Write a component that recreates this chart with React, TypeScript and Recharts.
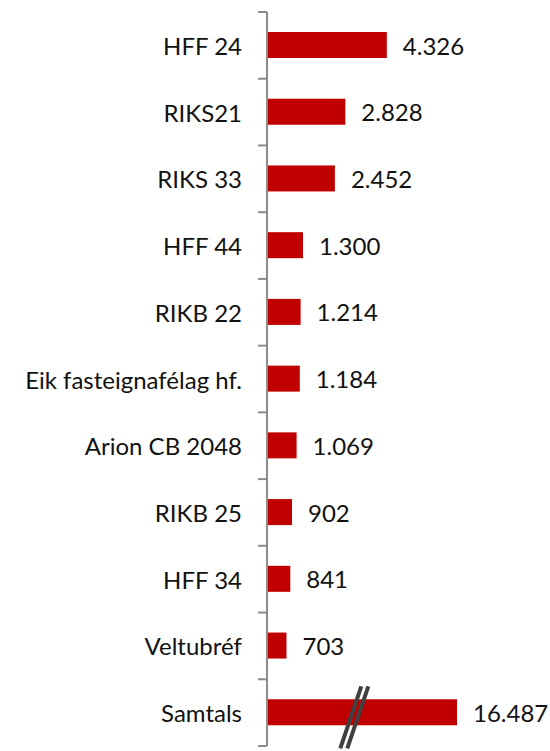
import { Bar, BarChart, LabelList, XAxis, YAxis } from "recharts"

const categories = [
  "HFF 24",
  "RIKS21",
  "RIKS 33",
  "HFF 44",
  "RIKB 22",
  "Eik fasteignafélag hf.",
  "Arion CB 2048",
  "RIKB 25",
  "HFF 34",
  "Veltubréf",
  "Samtals",
]

const amounts = [4326, 2828, 2452, 1300, 1214, 1184, 1069, 902, 841, 703, 16487]

// the axis stops here, bigger bars get a break mark
const BREAK_AT = 6860

const rows = categories.map((name, index) => ({
  name,
  amount: amounts[index],
  plotted: Math.min(amounts[index], BREAK_AT),
}))

const WIDTH = 550
const HEIGHT = 751
const MARGIN = { top: 12, right: 93, bottom: 5, left: 0 }
const AXIS_WIDTH = 267
const BAND = (HEIGHT - MARGIN.top - MARGIN.bottom) / categories.length
const FONT = "Lato, 'Open Sans', sans-serif"
const FONT_SIZE = 24

if (typeof document !== "undefined") {
  document.body.style.margin = "0"
}

function formatAmount(value: number) {
  return String(value).replace(/\B(?=(\d{3})+(?!\d))/g, ".")
}

function CategoryTick(props: any) {
  const { y, payload, index } = props
  const half = BAND / 2
  const axisX = AXIS_WIDTH
  return (
    <g>
      <line
        stroke="#8c8c8c"
        strokeWidth={2}
        x1={axisX - 9}
        x2={axisX}
        y1={y - half}
        y2={y - half}
      />
      {index === categories.length - 1 ? (
        <line
          stroke="#8c8c8c"
          strokeWidth={2}
          x1={axisX - 9}
          x2={axisX}
          y1={y + half}
          y2={y + half}
        />
      ) : null}
      <text
        dominantBaseline="central"
        fill="#111"
        fontFamily={FONT}
        fontSize={FONT_SIZE}
        textAnchor="end"
        x={axisX - 25}
        y={y}
      >
        {payload.value}
      </text>
    </g>
  )
}

function BreakableBar(props: any) {
  const { x, y, width, height, payload } = props
  const broken = payload.amount > payload.plotted
  const cx = x + width * 0.47
  const cy = y + height / 2
  return (
    <g>
      <rect fill="#c00000" height={height} width={width} x={x} y={y} />
      {broken ? (
        <g stroke="#404040" strokeWidth={4}>
          <line x1={cx - 16} x2={cx + 5} y1={cy + 36} y2={cy - 26} />
          <line x1={cx - 9} x2={cx + 12} y1={cy + 36} y2={cy - 26} />
        </g>
      ) : null}
    </g>
  )
}

function ValueLabel(props: any) {
  const { x, y, width, height, value } = props
  return (
    <text
      dominantBaseline="central"
      fill="#111"
      fontFamily={FONT}
      fontSize={FONT_SIZE}
      x={x + width + 16}
      y={y + height / 2}
    >
      {formatAmount(value)}
    </text>
  )
}

export default function App() {
  return (
    <div style={{ background: "#fff", width: WIDTH, height: HEIGHT }}>
      <BarChart
        data={rows}
        height={HEIGHT}
        layout="vertical"
        margin={MARGIN}
        width={WIDTH}
      >
        <XAxis domain={[0, BREAK_AT]} hide type="number" />
        <YAxis
          axisLine={{ stroke: "#8c8c8c", strokeWidth: 2 }}
          dataKey="name"
          interval={0}
          tick={<CategoryTick />}
          tickLine={false}
          type="category"
          width={AXIS_WIDTH}
        />
        <Bar
          barSize={26}
          dataKey="plotted"
          isAnimationActive={false}
          shape={<BreakableBar />}
        >
          <LabelList content={<ValueLabel />} dataKey="amount" />
        </Bar>
      </BarChart>
    </div>
  )
}
